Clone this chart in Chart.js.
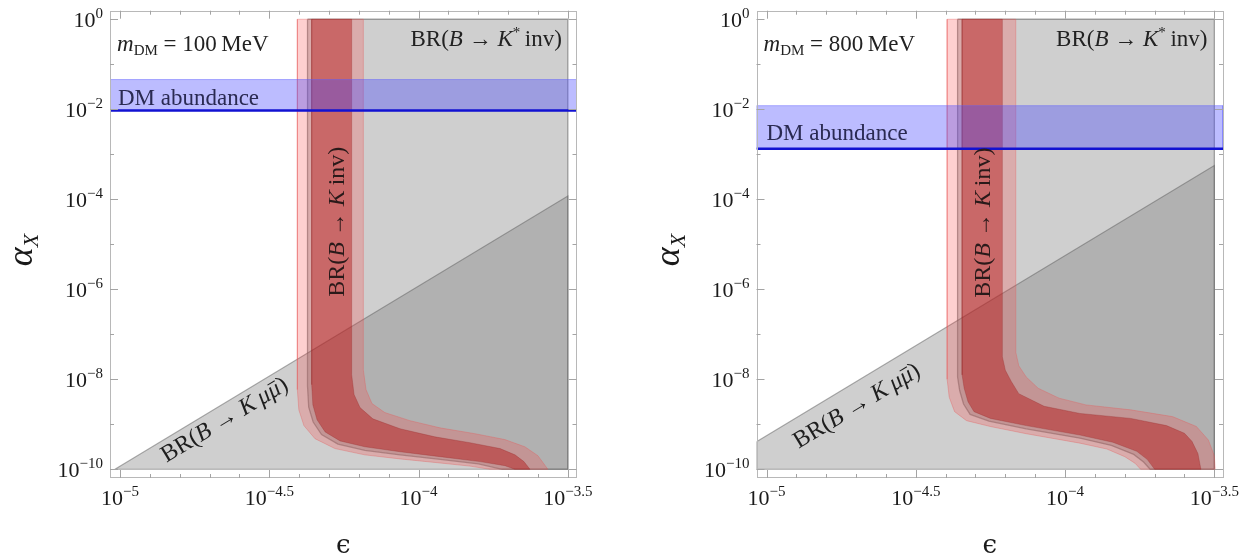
<!DOCTYPE html>
<html>
<head>
<meta charset="utf-8">
<script src="https://cdn.jsdelivr.net/npm/chart.js@4.4.1/dist/chart.umd.min.js"></script>
<style>
html, body { margin: 0; padding: 0; background: #fff; }
#wrap { position: relative; width: 1243px; height: 557px; overflow: hidden; }
canvas { position: absolute; top: 0; }
</style>
</head>
<body>
<div id="wrap">
  <canvas id="left" width="622" height="557" style="left:0"></canvas>
  <canvas id="right" width="621" height="557" style="left:622px"></canvas>
</div>
<script>
// all values are log10(epsilon) on x and log10(alpha_X) on y
const epsMajor = [-5, -4.5, -4, -3.5];
const epsMinor = [-4.9, -4.8, -4.7, -4.6, -4.4, -4.3, -4.2, -4.1, -3.9, -3.8, -3.7, -3.6];
const alphaMajor = [0, -2, -4, -6, -8, -10];
const alphaMinor = [-1, -3, -5, -7, -9];

// m_DM = 100 MeV
const a_kstarX  = [-4.372, -4.372, -4.368, -4.353, -4.325, -4.27, -4.18, -4.062, -3.928, -3.80, -3.72, -3.5, -3.5];
const a_kstarY  = [0, -8.15, -8.62, -8.95, -9.23, -9.44, -9.58, -9.68, -9.78, -9.88, -10, -10, 0];
const a_innerLoX = [-4.358, -4.358, -4.354, -4.340, -4.313, -4.263, -4.180, -4.062, -3.928, -3.794, -3.711, -3.677];
const a_innerLoY = [0, -8.12, -8.57, -8.90, -9.17, -9.37, -9.50, -9.61, -9.72, -9.83, -9.92, -10];
const a_innerHiX = [-4.224, -4.224, -4.216, -4.196, -4.153, -4.062, -3.945, -3.828, -3.727, -3.677, -3.647, -3.627];
const a_innerHiY = [0, -7.90, -8.34, -8.63, -8.88, -9.10, -9.28, -9.41, -9.54, -9.68, -9.83, -10];
const a_outerLoX = [-4.406, -4.406, -4.401, -4.384, -4.347, -4.280, -4.180, -4.062, -3.928, -3.828, -3.761];
const a_outerLoY = [0, -8.23, -8.68, -9.03, -9.32, -9.54, -9.68, -9.77, -9.86, -9.93, -10];
const a_outerHiX = [-4.185, -4.185, -4.176, -4.156, -4.113, -4.029, -3.928, -3.811, -3.711, -3.644, -3.600, -3.567];
const a_outerHiY = [0, -7.79, -8.23, -8.54, -8.74, -8.92, -9.08, -9.21, -9.34, -9.50, -9.70, -10];
const a_mumuX = [-5.017, -3.5, -3.5];
const a_mumuY = [-10, -3.93, -10];
const a_relic = [-1.34, -2.03];   // band top, relic line

// m_DM = 800 MeV
const b_kstarX  = [-4.36, -4.36, -4.353, -4.34, -4.318, -4.255, -4.13, -3.95, -3.845, -3.77, -3.737, -3.715, -3.5, -3.5];
const b_kstarY  = [0, -7.95, -8.25, -8.55, -8.78, -8.93, -9.10, -9.31, -9.47, -9.67, -9.84, -10, -10, 0];
const b_innerLoX = [-4.345, -4.345, -4.338, -4.325, -4.305, -4.25, -4.13, -3.95, -3.84, -3.76, -3.725, -3.70];
const b_innerLoY = [0, -7.9, -8.2, -8.5, -8.72, -8.87, -9.03, -9.24, -9.40, -9.60, -9.78, -10];
const b_innerHiX = [-4.21, -4.21, -4.20, -4.18, -4.155, -4.07, -3.95, -3.78, -3.66, -3.60, -3.575, -3.555, -3.545];
const b_innerHiY = [0, -7.5, -7.8, -8.05, -8.32, -8.60, -8.76, -8.87, -9.03, -9.2, -9.38, -9.65, -10];
const b_outerLoX = [-4.395, -4.395, -4.388, -4.37, -4.33, -4.25, -4.13, -3.95, -3.86, -3.80, -3.765, -3.747];
const b_outerLoY = [0, -8.0, -8.4, -8.72, -8.92, -9.05, -9.21, -9.42, -9.55, -9.72, -9.87, -10];
const b_outerHiX = [-4.165, -4.165, -4.155, -4.13, -4.09, -4.02, -3.93, -3.78, -3.64, -3.56, -3.52, -3.50, -3.497];
const b_outerHiY = [0, -7.4, -7.7, -7.95, -8.2, -8.42, -8.57, -8.68, -8.83, -9.05, -9.35, -9.7, -10];
const b_mumuX = [-5.0335, -3.5, -3.5, -5.0335];
const b_mumuY = [-9.39, -3.25, -10, -10];
const b_relic = [-1.92, -2.88];

const xMin = -5.0335, xMax = -3.471, yMin = -10.194, yMax = 0.19;
const SERIF = '"Liberation Serif", "DejaVu Serif", serif';

function pts(xs, ys) { return xs.map((x, i) => ({x: x, y: ys[i]})); }
function closed(p) { return p.concat([p[0]]); }
function band(loX, loY, hiX, hiY) { return closed(pts(loX, loY).concat(pts(hiX, hiY).reverse())); }

function fnt(s, it) { return (it ? 'italic ' : '') + s + 'px ' + SERIF; }

function drawRich(ctx, parts, x, y, align) {
    let w = 0;
    parts.forEach(p => { ctx.font = fnt(p.s, p.i); w += ctx.measureText(p.t).width; });
    let cx = align === 'right' ? x - w : align === 'center' ? x - w / 2 : x;
    ctx.textAlign = 'left';
    ctx.textBaseline = 'alphabetic';
    parts.forEach(p => {
        ctx.font = fnt(p.s, p.i);
        ctx.fillText(p.t, cx, y + (p.dy || 0));
        const pw = ctx.measureText(p.t).width;
        if (p.bar) {
            ctx.save();
            ctx.strokeStyle = ctx.fillStyle;
            ctx.lineWidth = 1.1;
            ctx.beginPath();
            ctx.moveTo(cx + pw * 0.25, y - p.s * 0.6);
            ctx.lineTo(cx + pw * 0.95, y - p.s * 0.6);
            ctx.stroke();
            ctx.restore();
        }
        cx += pw;
    });
}

function expText(v) { return (v < 0 ? '\u2212' : '') + String(Math.abs(v)); }

function makeDecor(mass, lbl) {
    return {
        id: 'decor',
        afterDatasetsDraw(chart) {
            const ctx = chart.ctx, xs = chart.scales.x, ys = chart.scales.y, a = chart.chartArea;
            ctx.save();
            // frame
            ctx.strokeStyle = '#b8b8b8';
            ctx.lineWidth = 1;
            ctx.strokeRect(Math.round(a.left) + 0.5, Math.round(a.top) + 0.5, Math.round(a.right - a.left) - 1, Math.round(a.bottom - a.top) - 1);
            // ticks, pointing in, on all four sides
            ctx.strokeStyle = '#a4a4a4';
            ctx.beginPath();
            const xt = epsMajor.map(v => [v, 8]).concat(epsMinor.map(v => [v, 4]));
            xt.forEach(([v, len]) => {
                const px = Math.round(xs.getPixelForValue(v)) + 0.5;
                ctx.moveTo(px, a.bottom); ctx.lineTo(px, a.bottom - len);
                ctx.moveTo(px, a.top); ctx.lineTo(px, a.top + len);
            });
            const yt = alphaMajor.map(v => [v, 8]).concat(alphaMinor.map(v => [v, 4]));
            yt.forEach(([v, len]) => {
                const py = Math.round(ys.getPixelForValue(v)) + 0.5;
                ctx.moveTo(a.left, py); ctx.lineTo(a.left + len, py);
                ctx.moveTo(a.right, py); ctx.lineTo(a.right - len, py);
            });
            ctx.stroke();

            // tick labels
            ctx.fillStyle = '#1a1a1a';
            epsMajor.forEach(v => {
                drawRich(ctx, [{t: '10', s: 22}, {t: expText(v), s: 15, dy: -9}], xs.getPixelForValue(v), a.bottom + 27, 'center');
            });
            alphaMajor.forEach(v => {
                drawRich(ctx, [{t: '10', s: 22}, {t: expText(v), s: 15, dy: -9}], a.left - 7, ys.getPixelForValue(v) + 7.5, 'right');
            });

            // axis titles
            ctx.save();
            ctx.translate(a.left - 88, 250);
            ctx.rotate(-Math.PI / 2);
            drawRich(ctx, [{t: '\u03B1', s: 36, i: true}, {t: 'X', s: 22, i: true, dy: 6}], 0, 10, 'center');
            ctx.restore();
            ctx.font = '26px "DejaVu Serif", serif';
            ctx.textAlign = 'center';
            ctx.textBaseline = 'middle';
            ctx.fillText('\u03F5', (a.left + a.right) / 2, 546);

            // panel texts
            ctx.fillStyle = '#222';
            drawRich(ctx, [{t: 'm', s: 23, i: true}, {t: 'DM', s: 15, dy: 4}, {t: ' = ' + mass + '\u2009MeV', s: 23}],
                xs.getPixelForValue(lbl.mass[0]), ys.getPixelForValue(lbl.mass[1]), 'left');
            drawRich(ctx, [{t: 'BR(', s: 23}, {t: 'B', s: 23, i: true}, {t: ' \u2192 ', s: 23}, {t: 'K', s: 23, i: true},
                {t: '*', s: 15, dy: -9}, {t: '\u2009inv)', s: 23}],
                xs.getPixelForValue(lbl.kstar[0]), ys.getPixelForValue(lbl.kstar[1]), 'right');
            ctx.fillStyle = '#2a2a52';
            drawRich(ctx, [{t: 'DM abundance', s: 23}], xs.getPixelForValue(lbl.relic[0]), ys.getPixelForValue(lbl.relic[1]), 'left');

            ctx.fillStyle = '#2a1a1a';
            ctx.save();
            ctx.translate(xs.getPixelForValue(lbl.kinv[0]), ys.getPixelForValue(lbl.kinv[1]));
            ctx.rotate(-Math.PI / 2);
            drawRich(ctx, [{t: 'BR(', s: 24}, {t: 'B', s: 24, i: true}, {t: ' \u2192 ', s: 24}, {t: 'K', s: 24, i: true}, {t: '\u2009inv)', s: 24}], 0, 8, 'center');
            ctx.restore();

            const mx = lbl.mumuLine[0], my = lbl.mumuLine[1];
            const ang = Math.atan2(ys.getPixelForValue(my[1]) - ys.getPixelForValue(my[0]), xs.getPixelForValue(mx[1]) - xs.getPixelForValue(mx[0]));
            ctx.fillStyle = '#1e1e1e';
            ctx.save();
            ctx.translate(xs.getPixelForValue(lbl.mumu[0]), ys.getPixelForValue(lbl.mumu[1]));
            ctx.rotate(ang);
            drawRich(ctx, [{t: 'BR(', s: 24}, {t: 'B', s: 24, i: true}, {t: ' \u2192 ', s: 24}, {t: 'K', s: 24, i: true},
                {t: '\u2009\u03BC', s: 24, i: true}, {t: '\u03BC', s: 24, i: true, bar: true}, {t: ')', s: 24}], 0, 8, 'center');
            ctx.restore();
            ctx.restore();
        }
    };
}

function build(id, p) {
    const common = {showLine: true, pointRadius: 0, pointHoverRadius: 0, tension: 0};
    new Chart(document.getElementById(id).getContext('2d'), {
        type: 'scatter',
        data: {
            datasets: [
                Object.assign({data: closed(pts(p.kstarX, p.kstarY)), fill: 'shape',
                    backgroundColor: 'rgba(128,128,128,0.38)', borderColor: 'rgba(95,95,95,0.55)', borderWidth: 1.3, order: 10}, common),
                Object.assign({data: closed(pts(p.mumuX, p.mumuY)), fill: 'shape',
                    backgroundColor: 'rgba(128,128,128,0.38)', borderColor: 'rgba(95,95,95,0.5)', borderWidth: 1.2, order: 9}, common),
                Object.assign({data: band(p.outerLoX, p.outerLoY, p.outerHiX, p.outerHiY), fill: 'shape',
                    backgroundColor: 'rgba(250,60,60,0.24)', borderColor: 'rgba(230,90,90,0.35)', borderWidth: 1, order: 8}, common),
                Object.assign({data: band(p.innerLoX, p.innerLoY, p.innerHiX, p.innerHiY), fill: 'shape',
                    backgroundColor: 'rgba(180,20,20,0.45)', borderColor: 'rgba(150,40,40,0.3)', borderWidth: 1, order: 7}, common),
                Object.assign({data: closed(pts([xMin, xMax, xMax, xMin], [p.relic[0], p.relic[0], p.relic[1], p.relic[1]])), fill: 'shape',
                    backgroundColor: 'rgba(70,70,255,0.36)', borderColor: 'rgba(90,90,255,0.45)', borderWidth: 1, order: 6}, common),
                Object.assign({data: pts([xMin, xMax], [p.relic[1], p.relic[1]]), fill: false,
                    borderColor: '#1212d2', borderWidth: 2.5, order: 5}, common)
            ]
        },
        options: {
            responsive: false,
            animation: false,
            events: [],
            layout: {padding: p.pad},
            plugins: {legend: {display: false}, tooltip: {enabled: false}},
            scales: {
                x: {type: 'linear', min: xMin, max: xMax, display: false},
                y: {type: 'linear', min: yMin, max: yMax, display: false}
            }
        },
        plugins: [makeDecor(p.mass, p.lbl)]
    });
}

build('left', {
    kstarX: a_kstarX, kstarY: a_kstarY,
    innerLoX: a_innerLoX, innerLoY: a_innerLoY, innerHiX: a_innerHiX, innerHiY: a_innerHiY,
    outerLoX: a_outerLoX, outerLoY: a_outerLoY, outerHiX: a_outerHiX, outerHiY: a_outerHiY,
    mumuX: a_mumuX, mumuY: a_mumuY, relic: a_relic, mass: 100,
    pad: {left: 110, right: 45.5, top: 10.7, bottom: 79},
    lbl: {mass: [-5.01, -0.70], kstar: [-3.52, -0.59], relic: [-5.007, -1.90], kinv: [-4.277, -4.5],
          mumu: [-4.652, -8.88], mumuLine: [a_mumuX, a_mumuY]}
});
build('right', {
    kstarX: b_kstarX, kstarY: b_kstarY,
    innerLoX: b_innerLoX, innerLoY: b_innerLoY, innerHiX: b_innerHiX, innerHiY: b_innerHiY,
    outerLoX: b_outerLoX, outerLoY: b_outerLoY, outerHiX: b_outerHiX, outerHiY: b_outerHiY,
    mumuX: b_mumuX, mumuY: b_mumuY, relic: b_relic, mass: 800,
    pad: {left: 134.5, right: 20, top: 10.7, bottom: 79},
    lbl: {mass: [-5.01, -0.70], kstar: [-3.523, -0.59], relic: [-5.0, -2.68], kinv: [-4.278, -4.52],
          mumu: [-4.70, -8.57], mumuLine: [b_mumuX, b_mumuY]}
});
</script>
</body>
</html>
